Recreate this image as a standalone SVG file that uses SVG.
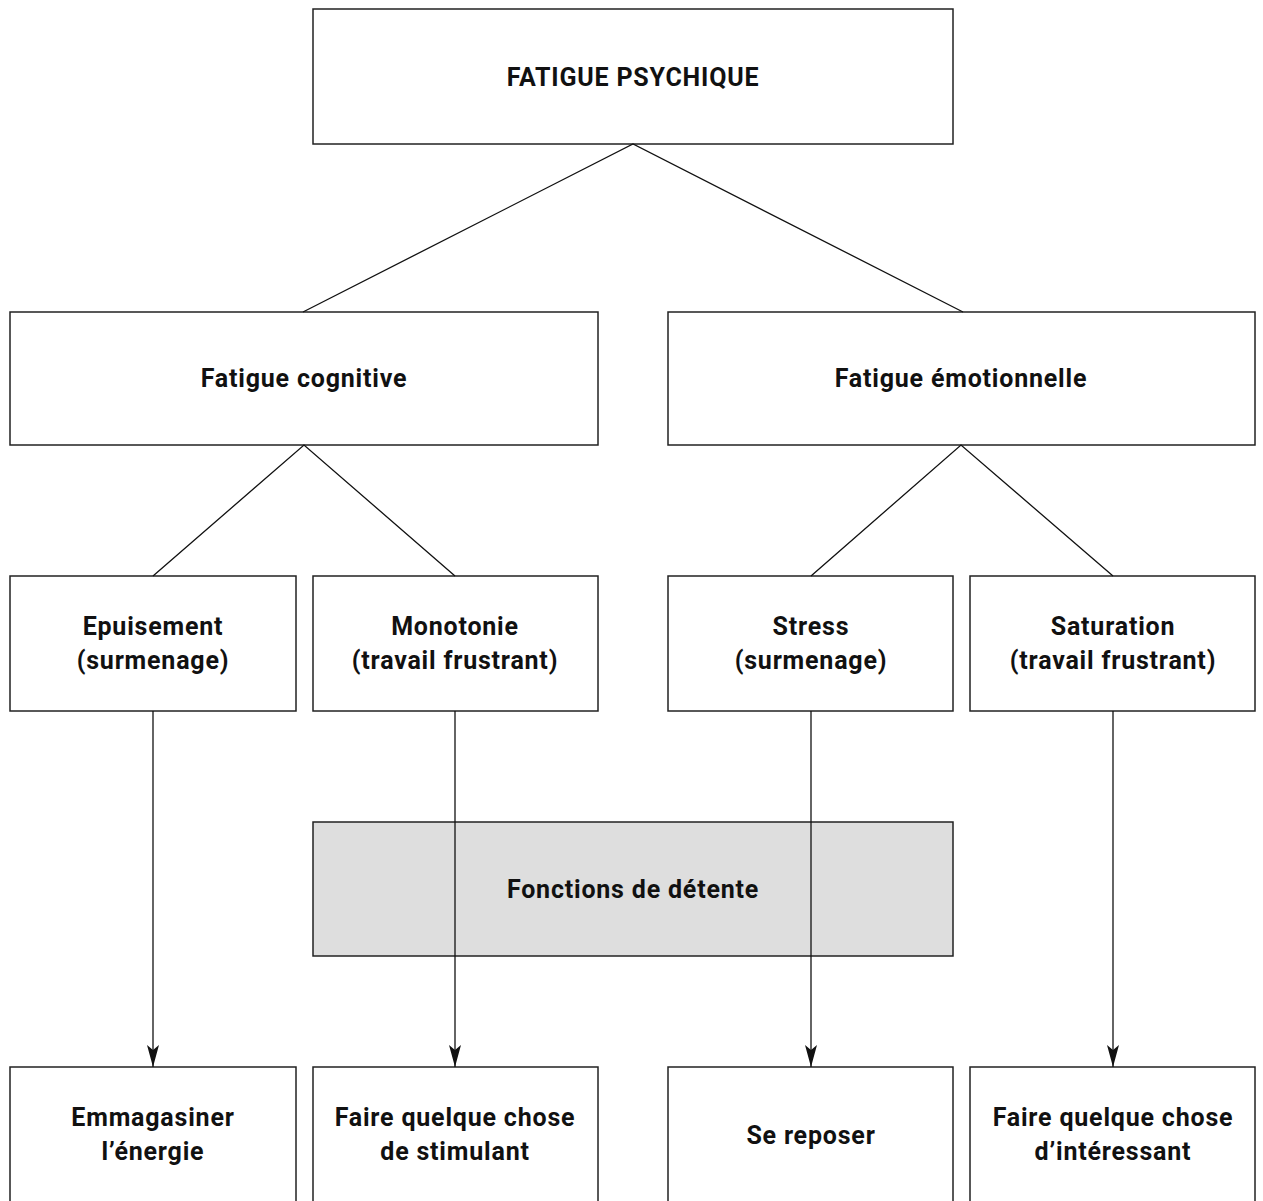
<svg xmlns="http://www.w3.org/2000/svg" width="1263" height="1201" viewBox="0 0 1263 1201">
<defs>
<style>
.box{fill:#fff;stroke:#222;stroke-width:1.5}
.gray{fill:#dedede;stroke:#222;stroke-width:1.5}
.t{font-family:Roboto,"Liberation Sans",sans-serif;font-weight:700;font-size:25px;letter-spacing:0.8px;fill:#111;text-anchor:middle}
.c{stroke:#111;stroke-width:1.3;fill:none}
</style>
<marker id="ah" markerWidth="22" markerHeight="12" refX="22" refY="6" orient="auto" markerUnits="userSpaceOnUse" viewBox="0 0 22 12">
<path d="M22,6 L0,0 L5,6 L0,12 Z" fill="#111"/>
</marker>
</defs>
<rect width="1263" height="1201" fill="#fff"/>
<g id="n-top"><rect class="box" x="313" y="9" width="640" height="135"/><text class="t" x="633" y="86">FATIGUE PSYCHIQUE</text></g>
<g id="n-cog"><rect class="box" x="10" y="312" width="588" height="133"/><text class="t" x="304" y="387">Fatigue cognitive</text></g>
<g id="n-emo"><rect class="box" x="668" y="312" width="587" height="133"/><text class="t" x="961" y="387">Fatigue émotionnelle</text></g>
<g id="n-epu"><rect class="box" x="10" y="576" width="286" height="135"/><text class="t" x="153" y="635">Epuisement</text><text class="t" x="153" y="669">(surmenage)</text></g>
<g id="n-mono"><rect class="box" x="313" y="576" width="285" height="135"/><text class="t" x="455" y="635">Monotonie</text><text class="t" x="455" y="669">(travail frustrant)</text></g>
<g id="n-stress"><rect class="box" x="668" y="576" width="285" height="135"/><text class="t" x="811" y="635">Stress</text><text class="t" x="811" y="669">(surmenage)</text></g>
<g id="n-sat"><rect class="box" x="970" y="576" width="285" height="135"/><text class="t" x="1113" y="635">Saturation</text><text class="t" x="1113" y="669">(travail frustrant)</text></g>
<g id="n-det"><rect class="gray" x="313" y="822" width="640" height="134"/><text class="t" x="633" y="898">Fonctions de détente</text></g>
<g id="n-emm"><rect class="box" x="10" y="1067" width="286" height="150"/><text class="t" x="153" y="1126">Emmagasiner</text><text class="t" x="153" y="1160">l’énergie</text></g>
<g id="n-stim"><rect class="box" x="313" y="1067" width="285" height="150"/><text class="t" x="455" y="1126">Faire quelque chose</text><text class="t" x="455" y="1160">de stimulant</text></g>
<g id="n-rep"><rect class="box" x="668" y="1067" width="285" height="150"/><text class="t" x="811" y="1144">Se reposer</text></g>
<g id="n-int"><rect class="box" x="970" y="1067" width="285" height="150"/><text class="t" x="1113" y="1126">Faire quelque chose</text><text class="t" x="1113" y="1160">d’intéressant</text></g>
<g id="connectors">
<path class="c" d="M303,312 L633,144 L963,312"/>
<path class="c" d="M153,576 L304,445 L455,576"/>
<path class="c" d="M811,576 L961,445 L1113,576"/>
<line class="c" x1="153" y1="711" x2="153" y2="1067" marker-end="url(#ah)"/>
<line class="c" x1="455" y1="711" x2="455" y2="1067" marker-end="url(#ah)"/>
<line class="c" x1="811" y1="711" x2="811" y2="1067" marker-end="url(#ah)"/>
<line class="c" x1="1113" y1="711" x2="1113" y2="1067" marker-end="url(#ah)"/>
</g>
</svg>
